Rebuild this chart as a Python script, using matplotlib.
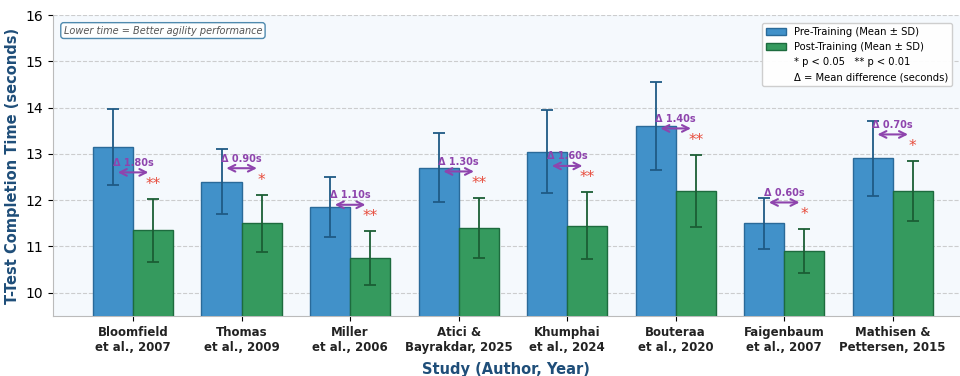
"""Pre vs post training T-test completion times by study"""

import numpy as np
import matplotlib.pyplot as plt
from matplotlib.patches import Patch
from matplotlib.lines import Line2D

studies = ["Bloomfield\net al., 2007", "Thomas\net al., 2009", "Miller\net al., 2006",
           "Atici &\nBayrakdar, 2025", "Khumphai\net al., 2024", "Bouteraa\net al., 2020",
           "Faigenbaum\net al., 2007", "Mathisen &\nPettersen, 2015"]
pre_mean = [13.15, 12.40, 11.85, 12.70, 13.05, 13.60, 11.50, 12.90]
pre_sd = [0.82, 0.70, 0.65, 0.75, 0.90, 0.95, 0.55, 0.80]
post_mean = [11.35, 11.50, 10.75, 11.40, 11.45, 12.20, 10.90, 12.20]
post_sd = [0.68, 0.62, 0.58, 0.65, 0.72, 0.78, 0.48, 0.65]
signif = ["**", "*", "**", "**", "**", "**", "*", "*"]

BLUE = "#4191c9"
GREEN = "#359a5e"
PURPLE = "#8e44ad"
RED = "#e74c3c"
LABEL_COLOR = "#1f4e79"


def plot_times():
    fig = plt.figure(figsize=(9.6, 3.76), dpi=100)
    ax = fig.add_axes([0.055, 0.16, 0.945, 0.80])
    ax.set_facecolor("#f5f9fd")

    x = np.arange(len(studies))
    w = 0.37
    ax.bar(x - w / 2, pre_mean, w, yerr=pre_sd, color=BLUE, edgecolor="#2a6a99",
           linewidth=1, capsize=4, error_kw=dict(ecolor="#1f5a85", elinewidth=1.3, capthick=1.3),
           label="Pre-Training (Mean ± SD)", zorder=3)
    ax.bar(x + w / 2, post_mean, w, yerr=post_sd, color=GREEN, edgecolor="#1d6b3e",
           linewidth=1, capsize=4, error_kw=dict(ecolor="#1b5e35", elinewidth=1.3, capthick=1.3),
           label="Post-Training (Mean ± SD)", zorder=3)

    for i in range(len(studies)):
        diff = pre_mean[i] - post_mean[i]
        y = post_mean[i] + post_sd[i] + 0.57
        ax.annotate("", xy=(x[i] + w * 0.45, y), xytext=(x[i] - w * 0.45, y),
                    arrowprops=dict(arrowstyle="<->", color=PURPLE, lw=1.5,
                                    mutation_scale=12), zorder=5)
        ax.text(x[i], y + 0.1, "Δ {:.2f}s".format(diff), ha="center", va="bottom",
                fontsize=7, fontweight="bold", color=PURPLE, zorder=5)
        ax.text(x[i] + w / 2, y - 0.42, signif[i], ha="center", va="bottom",
                fontsize=11, color=RED, zorder=5)

    ax.set_xlim(-0.74, 7.62)
    ax.set_ylim(9.5, 16)
    ax.set_xticks(x)
    ax.set_xticklabels(studies, fontsize=8.5, fontweight="bold", color="#222222")
    ax.tick_params(axis="y", labelsize=10)
    ax.set_ylabel("T-Test Completion Time (seconds)", fontsize=10.5, fontweight="bold",
                  color=LABEL_COLOR)
    ax.set_xlabel("Study (Author, Year)", fontsize=10.5, fontweight="bold",
                  color=LABEL_COLOR, labelpad=6)

    ax.grid(axis="y", linestyle="--", color="#bbbbbb", alpha=0.7, zorder=0)
    ax.set_axisbelow(True)
    for side in ["top", "right"]:
        ax.spines[side].set_visible(False)
    for side in ["left", "bottom"]:
        ax.spines[side].set_color("#bbbbbb")

    ax.text(0.012, 0.965, "Lower time = Better agility performance", transform=ax.transAxes,
            fontsize=7, style="italic", color="#555555", va="top",
            bbox=dict(boxstyle="round,pad=0.3", facecolor="white", edgecolor="#3d7ea6",
                      alpha=0.9))

    handles = [Patch(facecolor=BLUE, edgecolor="#2a6a99", label="Pre-Training (Mean ± SD)"),
               Patch(facecolor=GREEN, edgecolor="#1d6b3e", label="Post-Training (Mean ± SD)"),
               Line2D([], [], color="none", label="* p < 0.05   ** p < 0.01"),
               Line2D([], [], color="none", label="Δ = Mean difference (seconds)")]
    ax.legend(handles=handles, loc="upper right", fontsize=7.2, framealpha=0.95,
              fancybox=True, borderaxespad=0.8)

    fig.savefig("out.png", dpi=100)


if __name__ == "__main__":
    plot_times()
